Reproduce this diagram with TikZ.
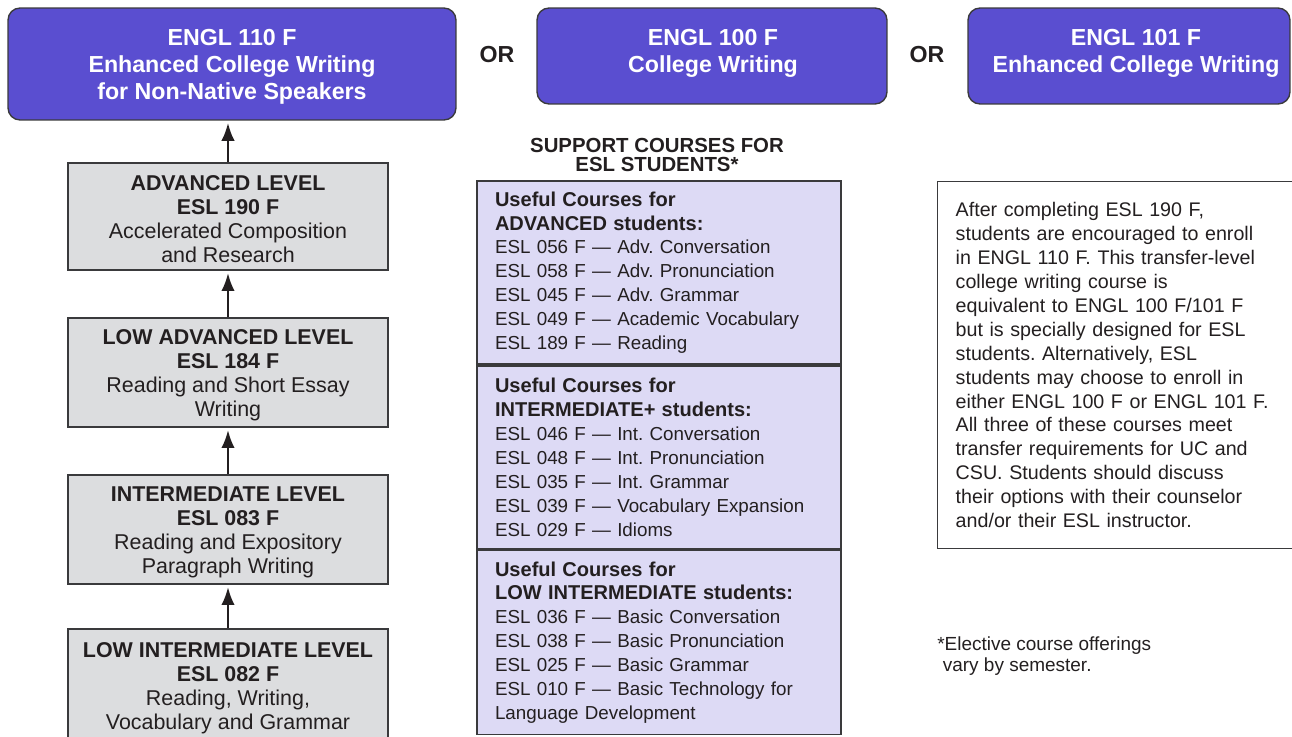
\documentclass[tikz,border=0pt]{standalone}
\usepackage{fontspec}
\setmainfont{Liberation Sans}
\usetikzlibrary{arrows.meta,positioning}
\definecolor{engpurple}{RGB}{90,78,208}
\definecolor{boxgray}{RGB}{220,221,223}
\definecolor{lavender}{RGB}{221,218,245}
\definecolor{inkgray}{RGB}{35,31,32}
\definecolor{edgegray}{RGB}{58,58,60}
\newcommand{\setfs}[2]{\fontsize{#1}{#2}\selectfont}
\newcommand{\subhd}[1]{{\bfseries\fontsize{11.4}{13.6}\selectfont #1}}
\frenchspacing

\begin{document}
\begin{tikzpicture}[
    x=0.02cm, y=-0.02cm,
    engbox/.style={draw=edgegray, line width=0.8pt, fill=engpurple, rounded corners=0.24cm, inner sep=0pt},
    engtext/.style={text=white, font=\bfseries\setfs{13.2}{15.3}, align=center, inner sep=0pt},
    ortext/.style={text=inkgray, font=\bfseries\setfs{13.2}{15.3}, inner sep=0pt},
    levelbox/.style={draw=edgegray, line width=1pt, fill=boxgray, minimum width=6.4cm, inner sep=0pt},
    leveltext/.style={text=inkgray, font=\setfs{12.2}{13.6}, align=center, inner sep=0pt},
    suphead/.style={text=inkgray, font=\bfseries\setfs{11.6}{10.8}, align=center, inner sep=0pt},
    supbox/.style={draw=edgegray, line width=1pt, fill=lavender, text=inkgray, font=\setfs{10.7}{13.6}, align=left, text width=6.56cm, inner xsep=0.36cm, inner ysep=0pt, minimum height=3.66cm},
    notebox/.style={draw=edgegray, line width=0.8pt, text=inkgray, font=\setfs{11.2}{13.6}, align=left, text width=7cm, inner xsep=0.36cm, inner ysep=0pt, minimum height=7.34cm, anchor=north west},
    uparrow/.style={-{Latex[length=3.6mm,width=2.7mm]}, inkgray, line width=1.5pt, shorten >=1.2pt}
]
\useasboundingbox (0,0) rectangle (1292,737);

% target courses
\node[engbox, minimum width=8.96cm, minimum height=2.24cm] (engl110) at (232,64) {};
\node[engtext] (engl110t) at (232,67) {ENGL 110 F\\Enhanced College Writing\\for Non-Native Speakers};
\node[ortext] (orA) at (497,55) {OR};
\node[engbox, minimum width=7cm, minimum height=1.92cm] (engl100) at (712,56) {};
\node[engtext] (engl100t) at (713,53.5) {ENGL 100 F\\College Writing};
\node[ortext] (orB) at (927,55) {OR};
\node[engbox, minimum width=6.44cm, minimum height=1.92cm] (engl101) at (1129,56) {};
\node[engtext] (engl101t) at (1136,53.5) {ENGL 101 F\\Enhanced College Writing};

% ESL levels
\node[levelbox, minimum height=2.14cm] (lvAdv) at (228,216.5) {};
\node[leveltext] (lvAdvText) at (228,219) {\textbf{ADVANCED LEVEL}\\\textbf{ESL 190 F}\\Accelerated Composition\\and Research};
\node[levelbox, minimum height=2.18cm] (lvLowAdv) at (228,372.5) {};
\node[leveltext] (lvLowAdvText) at (228,375.5) {\textbf{LOW ADVANCED LEVEL}\\\textbf{ESL 184 F}\\Reading and Short Essay\\Writing};
\node[levelbox, minimum height=2.18cm] (lvInt) at (228,529.5) {};
\node[leveltext] (lvIntText) at (228,532.5) {\textbf{INTERMEDIATE LEVEL}\\\textbf{ESL 083 F}\\Reading and Expository\\Paragraph Writing};
\node[levelbox, minimum height=2.32cm] (lvLowInt) at (228,687) {};
\node[leveltext] (lvLowIntText) at (228,688) {\textbf{LOW INTERMEDIATE LEVEL}\\\textbf{ESL 082 F}\\Reading, Writing,\\Vocabulary and Grammar};

\foreach \a/\b in {lvAdv/engl110, lvLowAdv/lvAdv, lvInt/lvLowAdv, lvLowInt/lvInt}
  \draw[uparrow] (\a.north) -- (\a.north |- \b.south);

% support courses
\node[suphead] (supHead) at (657,155) {SUPPORT COURSES FOR\\ESL STUDENTS*};
\node[supbox] (supAdv) at (659,272.5) {\subhd{Useful Courses for}\\\subhd{ADVANCED students:}\\ESL 056 F — Adv. Conversation\\ESL 058 F — Adv. Pronunciation\\ESL 045 F — Adv. Grammar\\ESL 049 F — Academic Vocabulary\\ESL 189 F — Reading};
\node[supbox, below=0pt of supAdv] (supInt) {\subhd{Useful Courses for}\\\subhd{INTERMEDIATE+ students:}\\ESL 046 F — Int. Conversation\\ESL 048 F — Int. Pronunciation\\ESL 035 F — Int. Grammar\\ESL 039 F — Vocabulary Expansion\\ESL 029 F — Idioms};
\node[supbox, below=0pt of supInt, minimum height=3.68cm] (supLowInt) {\subhd{Useful Courses for}\\\subhd{LOW INTERMEDIATE students:}\\ESL 036 F — Basic Conversation\\ESL 038 F — Basic Pronunciation\\ESL 025 F — Basic Grammar\\ESL 010 F — Basic Technology for\\Language Development};

% explanation
\node[notebox] (noteBox) at (937,181) {After completing ESL 190 F,\\students are encouraged to enroll\\in ENGL 110 F. This transfer-level\\college writing course is\\equivalent to ENGL 100 F/101 F\\but is specially designed for ESL\\students. Alternatively, ESL\\students may choose to enroll in\\either ENGL 100 F or ENGL 101 F.\\All three of these courses meet\\transfer requirements for UC and\\CSU. Students should discuss\\their options with their counselor\\and/or their ESL instructor.};
\node[text=inkgray, font=\setfs{10.8}{11.9}, align=left, inner sep=0pt, anchor=west] (footNote) at (937,656.5) {*Elective course offerings\\\hspace*{1.1mm}vary by semester.};
\end{tikzpicture}
\end{document}
